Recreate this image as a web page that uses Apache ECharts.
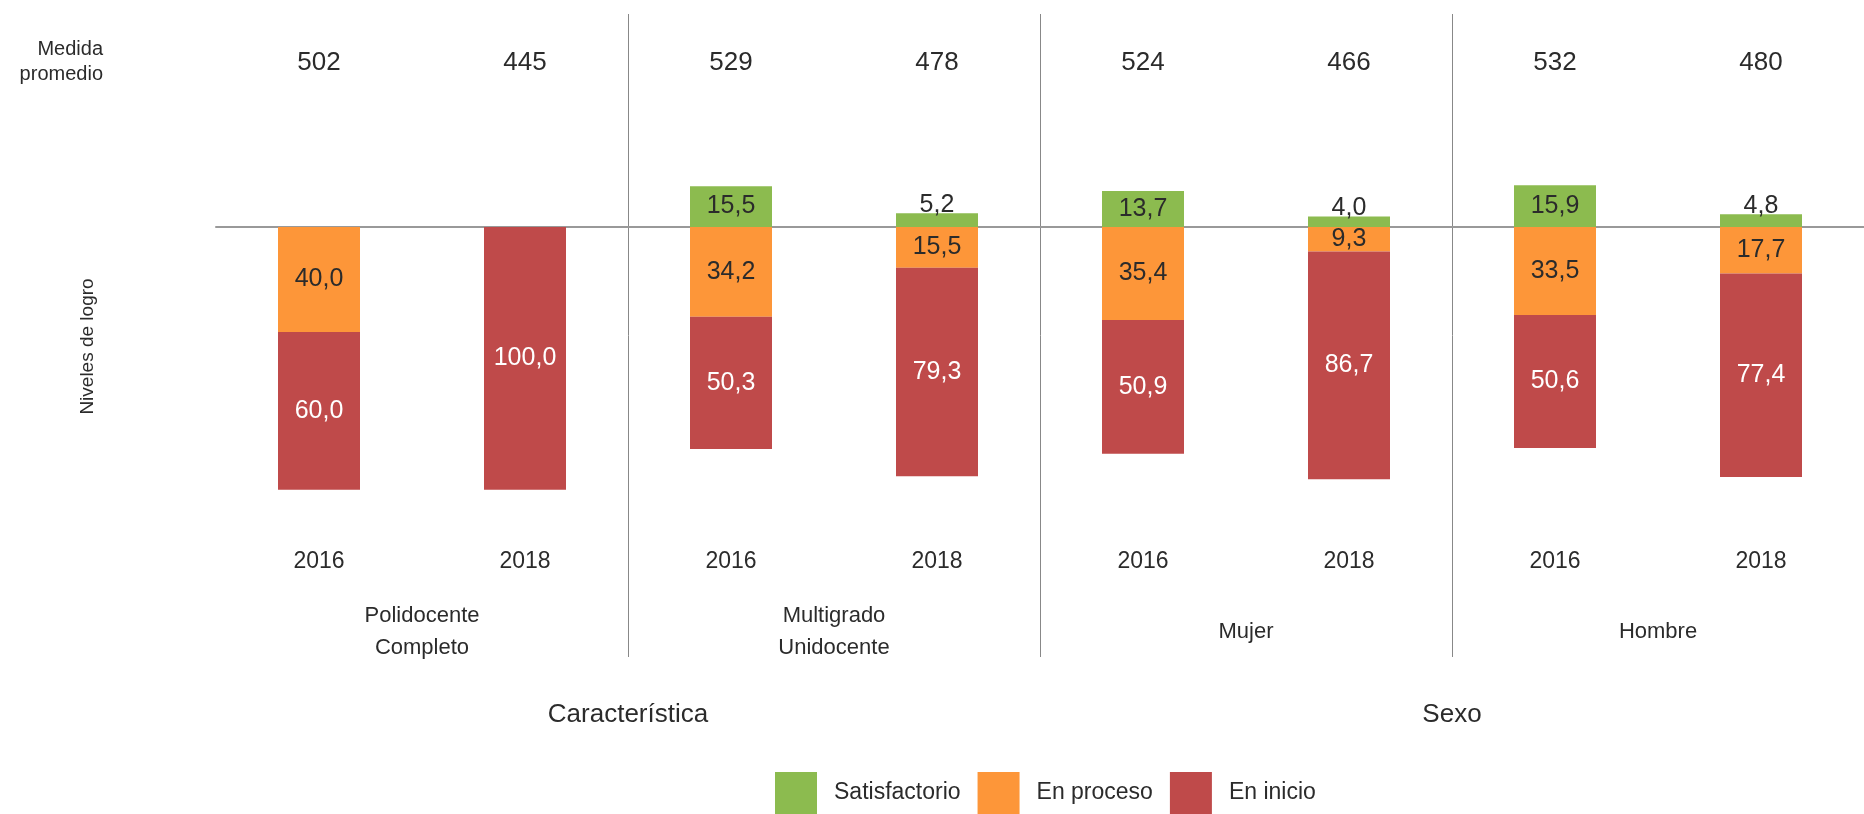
<!DOCTYPE html>
<html>
<head>
<meta charset="utf-8">
<script src="https://cdn.jsdelivr.net/npm/echarts@6/dist/echarts.min.js"></script>
<style>
  html, body { margin: 0; padding: 0; background: #fff; }
  #main { width: 1864px; height: 814px; }
</style>
</head>
<body>
<div id="main"></div>
<script>
// data
const years = ["2016", "2018", "2016", "2018", "2016", "2018", "2016", "2018"];
const groups = ["Polidocente\nCompleto", "Multigrado\nUnidocente", "Mujer", "Hombre"];
const sections = ["Característica", "Sexo"];
const medida = ["502", "445", "529", "478", "524", "466", "532", "480"];
const satisfactorio = [null, null, 15.5, 5.2, 13.7, 4.0, 15.9, 4.8];
const enProceso = [40.0, null, 34.2, 15.5, 35.4, 9.3, 33.5, 17.7];
const enInicio = [60.0, 100.0, 50.3, 79.3, 50.9, 86.7, 50.6, 77.4];

const FONT = "Liberation Sans, Arial, sans-serif";
const TXT = "#2b2b2b";
const fmt = (p) => Math.abs(p.value).toFixed(1).replace(".", ",");

const labelAxis = (data, position, offset, size, extra) => ({
  type: "category",
  gridIndex: 0,
  position: position,
  offset: offset,
  data: data,
  axisLine: { show: false },
  axisTick: { show: false },
  splitLine: { show: false },
  axisLabel: Object.assign({
    interval: 0,
    margin: 0,
    verticalAlign: "middle",
    color: TXT,
    fontSize: size,
    fontFamily: FONT,
  }, extra || {}),
});

const chart = echarts.init(document.getElementById("main"));

const option = {
  animation: false,
  grid: { left: 216, right: -4, top: 14, bottom: 157 },
  legend: {
    left: 770,
    top: 767,
    itemWidth: 42,
    itemHeight: 42,
    itemGap: 17,
    icon: "rect",
    textStyle: { fontSize: 23, color: TXT, fontFamily: FONT, padding: [0, 0, 0, 12] },
    data: ["Satisfactorio", "En proceso", "En inicio"],
  },
  graphic: [
    {
      type: "text",
      x: 103,
      y: 62,
      style: {
        text: "Medida\npromedio",
        align: "right",
        verticalAlign: "middle",
        fontSize: 20,
        lineHeight: 25,
        fill: TXT,
        fontFamily: FONT,
      },
    },
  ],
  xAxis: [
    {
      type: "category",
      data: years,
      position: "bottom",
      axisLine: { show: true, onZero: true, lineStyle: { color: "#999", width: 2 } },
      axisTick: { show: false },
      axisLabel: { show: false },
      splitLine: {
        show: true,
        interval: (i) => i === 2 || i === 4 || i === 6,
        lineStyle: { color: "#888", width: 1 },
      },
    },
    labelAxis(years, "bottom", -95, 23),
    labelAxis(groups, "bottom", -25, 22, { lineHeight: 32 }),
    labelAxis(sections, "bottom", 58, 26),
    labelAxis(medida, "top", -49, 26),
  ],
  yAxis: {
    type: "value",
    min: -163.6,
    max: 81,
    axisLine: { show: false },
    axisTick: { show: false },
    axisLabel: { show: false },
    splitLine: { show: false },
    name: "Niveles de logro",
    nameLocation: "middle",
    nameRotate: 90,
    nameGap: 119,
    nameTextStyle: { fontSize: 19, color: TXT, fontFamily: FONT, padding: [0, 22, 0, 0] },
  },
  series: [
    {
      name: "Satisfactorio",
      type: "bar",
      stack: "niv",
      barWidth: 82,
      itemStyle: { color: "#8CBB4F" },
      label: { show: true, position: "inside", color: TXT, fontSize: 25, fontFamily: FONT, formatter: fmt },
      data: satisfactorio.map((v) =>
        v == null ? null : v < 10 ? { value: v, label: { position: "top", distance: -4 } } : v
      ),
    },
    {
      name: "En proceso",
      type: "bar",
      stack: "niv",
      barWidth: 82,
      itemStyle: { color: "#FD9639" },
      label: { show: true, position: "inside", color: TXT, fontSize: 25, fontFamily: FONT, formatter: fmt },
      data: enProceso.map((v) => (v == null ? null : -v)),
    },
    {
      name: "En inicio",
      type: "bar",
      stack: "niv",
      barWidth: 82,
      itemStyle: { color: "#BF4A4A" },
      label: { show: true, position: "inside", color: "#fff", fontSize: 25, fontFamily: FONT, formatter: fmt },
      data: enInicio.map((v) => -v),
    },
  ],
};

chart.setOption(option);
</script>
</body>
</html>
